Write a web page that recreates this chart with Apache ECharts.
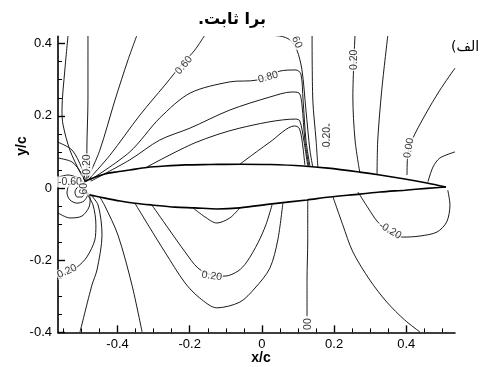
<!DOCTYPE html>
<html dir="ltr"><head><meta charset="utf-8">
<script src="https://cdn.jsdelivr.net/npm/echarts@6/dist/echarts.min.js"></script>
<style>html,body{margin:0;padding:0;background:#fff}#c{width:489px;height:367px}</style>
</head><body><div id="c"></div>
<script>
// ---- axis ticks ----
const xMajorTicks = [-0.4, -0.2, 0, 0.2, 0.4];
const xMinorTicks = [-0.55,-0.5,-0.45,-0.35,-0.3,-0.25,-0.15,-0.1,-0.05,0.05,0.1,0.15,0.25,0.3,0.35,0.45,0.5];
const yMajorTicks = [-0.4, -0.2, 0, 0.2, 0.4];
const yMinorTicks = [-0.35,-0.3,-0.25,-0.15,-0.1,-0.05,0.05,0.1,0.15,0.25,0.3,0.35];

// ---- airfoil surface ----
const airfoilUpper = [[-0.499,0.003],[-0.493,0.014],[-0.482,0.022],[-0.463,0.030],[-0.435,0.039],[-0.407,0.044],[-0.366,0.050],[-0.319,0.057],[-0.269,0.061],[-0.213,0.064],[-0.144,0.065],[-0.061,0.066],[0.022,0.065],[0.114,0.061],[0.183,0.055],[0.271,0.044],[0.327,0.036],[0.396,0.025],[0.457,0.014],[0.510,0.003]];
const airfoilLower = [[-0.499,0.003],[-0.495,-0.004],[-0.490,-0.010],[-0.482,-0.017],[-0.463,-0.022],[-0.435,-0.028],[-0.393,-0.036],[-0.352,-0.042],[-0.305,-0.047],[-0.241,-0.053],[-0.186,-0.055],[-0.125,-0.058],[-0.061,-0.055],[0.028,-0.044],[0.125,-0.033],[0.188,-0.025],[0.271,-0.017],[0.327,-0.011],[0.396,-0.006],[0.457,-0.001],[0.510,0.003]];

// ---- contour lines ----
const cNoseOuter = [[-0.565,0.030],[-0.537,0.036],[-0.510,0.028],[-0.493,0.014]];
const cNoseA = [[-0.565,0.083],[-0.526,0.072],[-0.499,0.039],[-0.490,0.017]];
const cNoseB = [[-0.565,0.127],[-0.526,0.105],[-0.499,0.055],[-0.488,0.019]];
const cTopLeft1 = [[-0.537,0.424],[-0.546,0.327],[-0.554,0.216],[-0.551,0.175],[-0.532,0.105],[-0.504,0.044],[-0.490,0.019]];
const cTopLeft2 = [[-0.482,0.424],[-0.482,0.244],[-0.485,0.105],[-0.485,0.022]];
const cFan1 = [[-0.482,0.028],[-0.449,0.105],[-0.407,0.244],[-0.371,0.355],[-0.346,0.424]];
const cFan060 = [[-0.479,0.025],[-0.421,0.091],[-0.338,0.202],[-0.269,0.285],[-0.219,0.346],[-0.186,0.382],[-0.158,0.424]];
const cFan080 = [[-0.476,0.022],[-0.366,0.100],[-0.283,0.194],[-0.199,0.263],[-0.089,0.294],[-0.014,0.299],[0.050,0.324],[0.094,0.327],[0.108,0.316],[0.114,0.244],[0.122,0.133],[0.133,0.061]];
const cFan4 = [[-0.474,0.019],[-0.366,0.078],[-0.283,0.133],[-0.199,0.166],[-0.089,0.216],[0.022,0.252],[0.083,0.266],[0.103,0.263],[0.111,0.230],[0.119,0.133],[0.130,0.061]];
const cFan5 = [[-0.319,0.058],[-0.186,0.125],[-0.061,0.166],[0.094,0.191],[0.105,0.186],[0.116,0.133],[0.127,0.061]];
const cFan6 = [[-0.061,0.066],[0.022,0.127],[0.091,0.172],[0.103,0.166],[0.111,0.133],[0.119,0.064]];
const cTop60 = [[-0.019,0.424],[0.050,0.421],[0.078,0.410],[0.097,0.382],[0.111,0.327],[0.122,0.216],[0.133,0.105],[0.141,0.058]];
const cShockRight = [[0.139,0.424],[0.141,0.244],[0.150,0.133],[0.155,0.058]];
const cShort020 = [[0.186,0.178],[0.184,0.110]];
const cUpper020 = [[0.258,0.424],[0.252,0.252],[0.258,0.133],[0.271,0.044]];
const cUpperB = [[0.349,0.424],[0.332,0.271],[0.321,0.133],[0.319,0.036]];
const cUpper000 = [[0.535,0.332],[0.493,0.271],[0.452,0.202],[0.416,0.133],[0.404,0.091],[0.402,0.036]];
const cUpperTE = [[0.535,0.100],[0.493,0.083],[0.474,0.058],[0.460,0.017]];
const cRingIn = [[-0.496,0.006],[-0.510,0.003],[-0.518,-0.011],[-0.512,-0.025],[-0.499,-0.025],[-0.490,-0.014]];
const cRingMid = [[-0.496,0.008],[-0.518,0.014],[-0.535,0.006],[-0.540,-0.014],[-0.532,-0.033],[-0.512,-0.042],[-0.493,-0.036],[-0.482,-0.019]];
const cNoseLow = [[-0.565,-0.069],[-0.532,-0.083],[-0.499,-0.078],[-0.479,-0.053],[-0.476,-0.028],[-0.485,-0.011]];
const cLow020L = [[-0.488,-0.011],[-0.468,-0.047],[-0.460,-0.102],[-0.463,-0.144],[-0.485,-0.191],[-0.512,-0.219],[-0.543,-0.235],[-0.565,-0.247]];
const cLowD4 = [[-0.476,-0.017],[-0.454,-0.047],[-0.443,-0.130],[-0.457,-0.227],[-0.471,-0.269],[-0.504,-0.399]];
const cLowD5 = [[-0.449,-0.025],[-0.435,-0.050],[-0.399,-0.130],[-0.360,-0.269],[-0.332,-0.399]];
const cLowInnerU = [[-0.305,-0.047],[-0.260,-0.111],[-0.213,-0.177],[-0.177,-0.222],[-0.139,-0.241],[-0.102,-0.244],[-0.066,-0.230],[-0.042,-0.205],[-0.011,-0.152],[0.011,-0.102],[0.028,-0.047]];
const cLowOuterU = [[-0.352,-0.042],[-0.310,-0.111],[-0.269,-0.177],[-0.213,-0.263],[-0.172,-0.305],[-0.125,-0.332],[-0.061,-0.316],[-0.019,-0.277],[0.022,-0.222],[0.044,-0.144],[0.058,-0.042]];
const cLowLoop = [[-0.191,-0.055],[-0.158,-0.080],[-0.125,-0.097],[-0.089,-0.083],[-0.061,-0.055]];
const cLow000 = [[0.127,-0.033],[0.127,-0.144],[0.125,-0.255],[0.125,-0.355]];
const cLowRight = [[0.197,-0.025],[0.224,-0.102],[0.252,-0.177],[0.299,-0.255],[0.346,-0.316],[0.396,-0.366],[0.438,-0.399]];
const cLowTE = [[0.266,-0.011],[0.294,-0.055],[0.321,-0.094],[0.355,-0.122],[0.391,-0.136],[0.438,-0.133],[0.485,-0.122],[0.512,-0.094],[0.521,-0.047],[0.515,-0.006]];

const contourLines = [cNoseOuter,cNoseA,cNoseB,cTopLeft1,cTopLeft2,cFan1,cFan060,cFan080,cFan4,cFan5,cFan6,cTop60,cShockRight,cShort020,cUpper020,cUpperB,cUpper000,cUpperTE,cRingIn,cRingMid,cNoseLow,cLow020L,cLowD4,cLowD5,cLowInnerU,cLowOuterU,cLowLoop,cLow000,cLowRight,cLowTE];

// ---- contour labels: text, x, y, angle ----
const labelTexts  = ["0.60","0.80","60","0.20","0.20","0.00","-0.60","60","0.20","0.20","0.20","00","-0.20"];
const labelX      = [-0.216, 0.017, 0.097, 0.180, 0.255, 0.407,-0.532,-0.493,-0.485,-0.540,-0.139, 0.127, 0.355];
const labelY      = [ 0.340, 0.307, 0.404, 0.141, 0.355, 0.111, 0.017,-0.002, 0.065,-0.231,-0.244,-0.377,-0.118];
const labelAngles = [ 50,    15,   -65,    90,    90,    80,     0,    90,    90,    25,    -8,    90,   -30];

// ---- texts (right-to-left isolates) ----
const titleText = '\u2067برا ثابت.\u2069';
const panelText = '\u2067الف)\u2069';

const chart = echarts.init(document.getElementById('c'), null, {renderer:'canvas'});
const fmt = v => (Math.abs(v) < 1e-9 ? '0' : v.toFixed(1));
const xMin = -0.565, xMax = 0.535, yMin = -0.4, yMax = 0.42;

const series = [];
contourLines.forEach(pts => series.push({
  type:'line', data: pts, xAxisIndex:0, yAxisIndex:0, showSymbol:false, smooth:0.3,
  lineStyle:{color:'#000', width:0.9}, silent:true, z:2, clip:true
}));
series.push({
  type:'line', data: airfoilUpper, showSymbol:false, smooth:0.3, xAxisIndex:0, yAxisIndex:0,
  lineStyle:{color:'#000', width:1.6}, z:3, silent:true
});
series.push({
  type:'line', data: airfoilLower, showSymbol:false, smooth:0.3, xAxisIndex:0, yAxisIndex:0,
  lineStyle:{color:'#000', width:1.6}, z:3, silent:true
});
series.push({
  type:'scatter', xAxisIndex:0, yAxisIndex:0, symbol:'circle', symbolSize:1, z:10, silent:true,
  itemStyle:{color:'rgba(0,0,0,0)'},
  label:{show:true, position:'inside', color:'#000', fontSize:10.5, fontFamily:'Liberation Sans',
      backgroundColor:'#fff', padding:[0,1]},
  labelLayout:{hideOverlap:false},
  data: labelTexts.map((t,i)=>({
    value:[labelX[i], labelY[i]],
    label:{show:true, formatter:t, rotate:labelAngles[i]}
  }))
});

chart.setOption({
  animation:false,
  backgroundColor:'#fff',
  grid:{left:58, top:36.4, width:397, height:296},
  xAxis:[
    {type:'value', min:xMin, max:xMax, position:'bottom',
     axisLine:{show:true, onZero:false, lineStyle:{color:'#000', width:1.6}},
     axisTick:{show:true, inside:true, length:7, customValues:xMajorTicks, lineStyle:{color:'#000', width:1.4}},
     axisLabel:{show:true, customValues:xMajorTicks, formatter:fmt, color:'#000', fontSize:13, fontFamily:'Liberation Sans', margin:6},
     splitLine:{show:false}},
    {type:'value', min:xMin, max:xMax, position:'bottom',
     axisLine:{show:false, onZero:false},
     axisTick:{show:true, inside:true, length:4, customValues:xMinorTicks, lineStyle:{color:'#000', width:1}},
     axisLabel:{show:false}, splitLine:{show:false}}
  ],
  yAxis:[
    {type:'value', min:yMin, max:yMax, position:'left',
     axisLine:{show:true, onZero:false, lineStyle:{color:'#000', width:1.6}},
     axisTick:{show:true, inside:true, length:7, customValues:yMajorTicks, lineStyle:{color:'#000', width:1.4}},
     axisLabel:{show:true, customValues:yMajorTicks, formatter:fmt, color:'#000', fontSize:13, fontFamily:'Liberation Sans', margin:6},
     splitLine:{show:false}},
    {type:'value', min:yMin, max:yMax, position:'left',
     axisLine:{show:false, onZero:false},
     axisTick:{show:true, inside:true, length:4, customValues:yMinorTicks, lineStyle:{color:'#000', width:1}},
     axisLabel:{show:false}, splitLine:{show:false}}
  ],
  graphic:[
    {type:'text', x:232, y:20, style:{text:titleText, font:'bold 16px "DejaVu Sans"', fill:'#000', align:'center', verticalAlign:'middle'}, z:20},
    {type:'text', x:465, y:47, style:{text:panelText, font:'14px "DejaVu Sans"', fill:'#000', align:'center', verticalAlign:'middle'}, z:20},
    {type:'text', x:261, y:358, style:{text:'x/c', font:'bold 14px "Liberation Sans"', fill:'#000', align:'center', verticalAlign:'middle'}, z:20},
    {type:'text', x:22, y:146, rotation:Math.PI/2, style:{text:'y/c', font:'bold 14px "Liberation Sans"', fill:'#000', align:'center', verticalAlign:'middle'}, z:20}
  ],
  series: series
});
</script></body></html>
